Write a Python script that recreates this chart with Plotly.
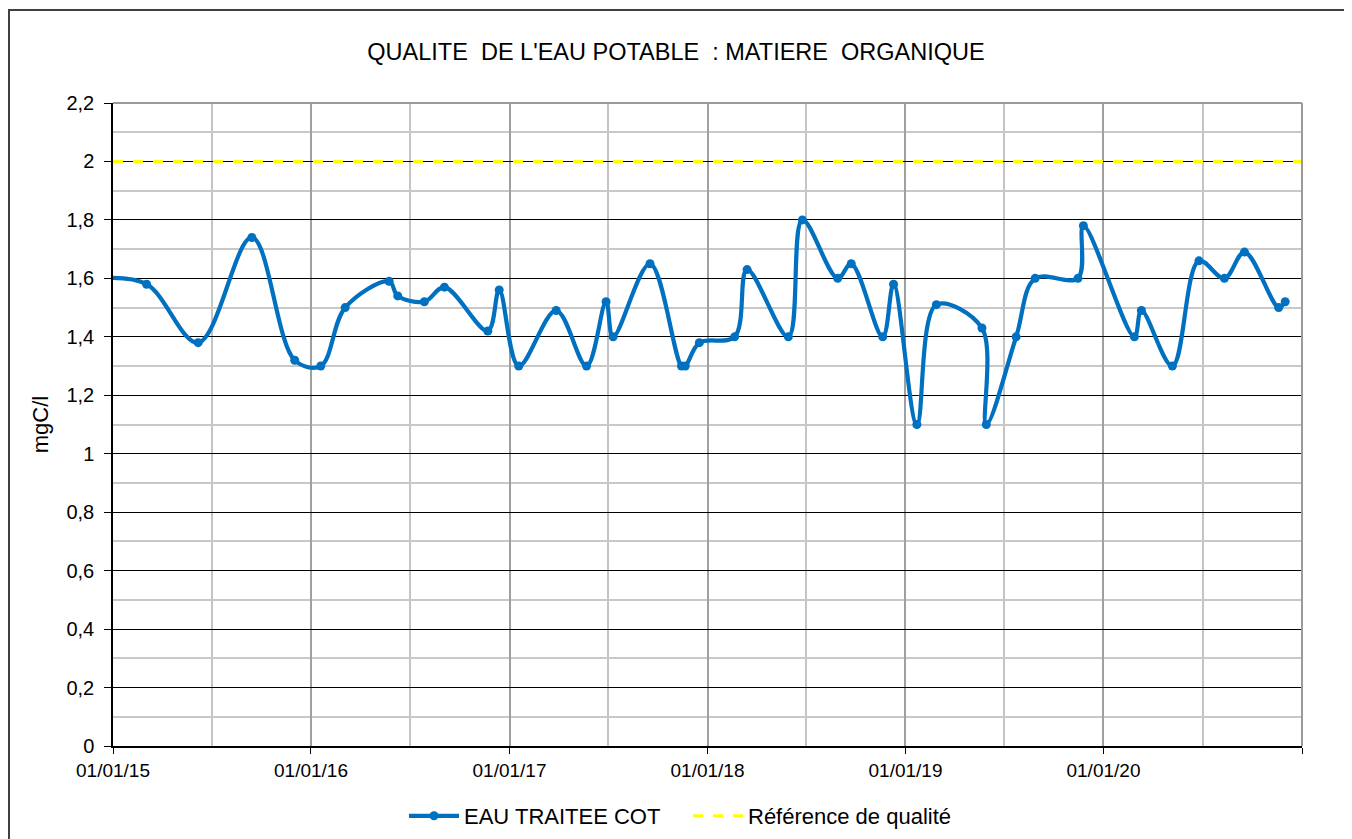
import plotly.graph_objects as go

# ---- data ----
DATES = ["2014-12-05", "2015-03-04", "2015-06-07", "2015-09-14", "2015-12-02",
         "2016-01-19", "2016-03-04", "2016-05-24", "2016-06-09", "2016-07-28",
         "2016-09-03", "2016-11-22", "2016-12-13", "2017-01-18", "2017-03-28",
         "2017-05-23", "2017-06-28", "2017-07-11", "2017-09-17", "2017-11-14",
         "2017-11-21", "2017-12-17", "2018-02-20", "2018-03-15", "2018-05-30",
         "2018-06-25", "2018-08-29", "2018-09-23", "2018-11-20", "2018-12-10",
         "2019-01-22", "2019-02-27", "2019-05-22", "2019-05-30", "2019-07-24",
         "2019-08-28", "2019-11-15", "2019-11-25", "2020-02-27", "2020-03-11",
         "2020-05-07", "2020-06-25", "2020-08-11", "2020-09-17", "2020-11-19",
         "2020-12-01"]
COT = [1.60, 1.58, 1.38, 1.74, 1.32,
       1.30, 1.50, 1.59, 1.54, 1.52,
       1.57, 1.42, 1.56, 1.30, 1.49,
       1.30, 1.52, 1.40, 1.65, 1.30,
       1.30, 1.38, 1.40, 1.63, 1.40,
       1.80, 1.60, 1.65, 1.40, 1.58,
       1.10, 1.51, 1.43, 1.10, 1.40,
       1.60, 1.60, 1.78, 1.40, 1.49,
       1.30, 1.66, 1.60, 1.69, 1.50,
       1.52]

REF_DATES = ["2015-01-01", "2021-01-01"]
REF_VALUES = [2.0, 2.0]

YEAR_TICKS = ["2015-01-01", "2016-01-01", "2017-01-01", "2018-01-01",
              "2019-01-01", "2020-01-01", "2021-01-01"]
YEAR_LABELS = ["01/01/15", "01/01/16", "01/01/17", "01/01/18",
               "01/01/19", "01/01/20", ""]
MID_TICKS = ["2015-07-02", "2016-07-02", "2017-07-02", "2018-07-02",
             "2019-07-02", "2020-07-02"]

SERIES_NAME = "EAU TRAITEE COT"
REF_NAME = "Référence de qualité"
TITLE = "QUALITE  DE L'EAU POTABLE  : MATIERE  ORGANIQUE"
Y_TITLE = "mgC/l"

FONT = "Liberation Sans, Arial, sans-serif"

# plot-area geometry (figure pixels)
L, T, W, H = 105, 95, 1189, 643
FIG_W, FIG_H = 1352, 839

fig = go.Figure()
fig.add_trace(go.Scatter(
    x=REF_DATES, y=REF_VALUES, name=REF_NAME, mode="lines",
    line=dict(color="#FFFF00", width=3, dash="10px,10px"),
    legendrank=2,
))
fig.add_trace(go.Scatter(
    x=DATES, y=COT, name=SERIES_NAME, mode="lines+markers",
    line=dict(color="#0070C0", width=4.2, shape="spline", smoothing=1.0),
    marker=dict(color="#0070C0", size=9),
    legendrank=1,
))


def px_x(p):
    return (p - L) / W


def px_y(p):
    return (T + H - p) / H


fig.update_layout(
    width=FIG_W, height=FIG_H,
    paper_bgcolor="white", plot_bgcolor="white",
    margin=dict(l=L, r=FIG_W - L - W, t=T, b=FIG_H - T - H, autoexpand=False),
    separators=", ",
    font=dict(family=FONT, color="black"),
    title=dict(text=TITLE, x=668 / FIG_W, xref="container", xanchor="center",
               y=1 - 44 / FIG_H, yref="container", yanchor="middle",
               font=dict(size=23.5, family=FONT, color="black")),
    showlegend=True,
    legend=dict(orientation="h", x=px_x(396), xanchor="left",
                y=px_y(808), yanchor="middle",
                font=dict(size=22, family=FONT, color="black"),
                traceorder="normal", itemwidth=50,
                entrywidth=219, entrywidthmode="pixels",
                bgcolor="rgba(0,0,0,0)"),
    xaxis=dict(
        type="date", range=["2015-01-01", "2021-01-01"],
        tickmode="array", tickvals=YEAR_TICKS, ticktext=YEAR_LABELS,
        ticks="outside", ticklen=6, tickcolor="black", tickwidth=1,
        showline=True, linecolor="black", linewidth=1.5,
        showgrid=True, gridcolor="#a0a0a0", gridwidth=1.5,
        minor=dict(tickmode="array", tickvals=MID_TICKS, showgrid=True,
                   gridcolor="#c4c4c4", gridwidth=1.5, ticks=""),
        tickfont=dict(size=19, family=FONT, color="black"),
        zeroline=False,
    ),
    yaxis=dict(
        range=[0, 2.2], tick0=0, dtick=0.2,
        ticks="outside", ticklen=7, tickcolor="black", tickwidth=1,
        ticklabelstandoff=6,
        showline=True, linecolor="black", linewidth=1.5,
        showgrid=True, gridcolor="black", gridwidth=1,
        minor=dict(dtick=0.1, showgrid=True, gridcolor="#c8c8c8",
                   gridwidth=1.5, ticks=""),
        tickfont=dict(size=20, family=FONT, color="black"),
        title=dict(text=Y_TITLE, font=dict(size=22, family=FONT, color="black"),
                   standoff=12),
        zeroline=False,
    ),
    shapes=[
        # gray frame on top and right of the plot area
        dict(type="line", xref="paper", yref="paper", x0=0, x1=1, y0=1, y1=1,
             line=dict(color="#9a9a9a", width=2), layer="above"),
        dict(type="line", xref="paper", yref="paper", x0=1, x1=1, y0=0, y1=1,
             line=dict(color="#9a9a9a", width=2), layer="above"),
        # outer chart border
        dict(type="rect", xref="paper", yref="paper",
             x0=px_x(1), x1=px_x(1420),
             y0=px_y(900), y1=px_y(2),
             line=dict(color="#404040", width=2), layer="above"),
    ],
)

fig.write_html("out.html")
